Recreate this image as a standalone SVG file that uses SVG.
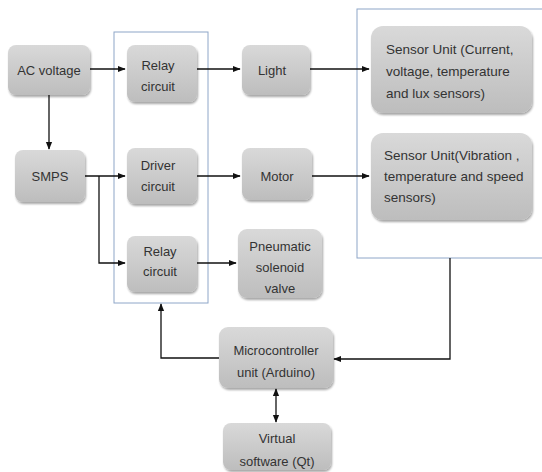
<svg xmlns="http://www.w3.org/2000/svg" width="542" height="472" viewBox="0 0 542 472">
<defs>
<linearGradient id="g" x1="0" y1="0" x2="0" y2="1">
<stop offset="0" stop-color="#d9d9d9"/>
<stop offset="1" stop-color="#bdbdbd"/>
</linearGradient>
<filter id="sh" x="-10%" y="-10%" width="130%" height="130%">
<feGaussianBlur in="SourceAlpha" stdDeviation="1.2"/>
<feOffset dx="1" dy="1.5" result="b"/>
<feComponentTransfer><feFuncA type="linear" slope="0.35"/></feComponentTransfer>
<feMerge><feMergeNode/><feMergeNode in="SourceGraphic"/></feMerge>
</filter>
<marker id="a" viewBox="0 0 10 10" refX="9" refY="5" markerWidth="6" markerHeight="6" orient="auto-start-reverse">
<path d="M0,1 L10,5 L0,9 z" fill="#111"/>
</marker>
</defs>
<style>
.box{fill:url(#g);filter:url(#sh)}
.t{font-family:"Liberation Sans",Arial,sans-serif;font-size:13px;fill:#333;text-anchor:middle}
.s{font-family:"Liberation Sans",Arial,sans-serif;font-size:13.5px;fill:#333}
.c{fill:none;stroke:#111;stroke-width:1.3}
.grp{fill:none;stroke:#8ea6c8;stroke-width:1}
</style>
<rect width="542" height="472" fill="#fff"/>
<g id="groups">
<rect class="grp" x="114" y="32" width="94" height="271"/>
<rect class="grp" x="357" y="9" width="190" height="249"/>
</g>
<g id="connectors">
<path class="c" d="M90,69 H125" marker-end="url(#a)"/>
<path class="c" d="M49,95 V149" marker-end="url(#a)"/>
<path class="c" d="M197,69 H240" marker-end="url(#a)"/>
<path class="c" d="M310,69 H369" marker-end="url(#a)"/>
<path class="c" d="M85,176 H125" marker-end="url(#a)"/>
<path class="c" d="M99,176 V263 H125" marker-end="url(#a)"/>
<path class="c" d="M197,176 H240" marker-end="url(#a)"/>
<path class="c" d="M312,176 H369" marker-end="url(#a)"/>
<path class="c" d="M197,263 H236" marker-end="url(#a)"/>
<path class="c" d="M450,258 V359 H334" marker-end="url(#a)"/>
<path class="c" d="M219,358 H161 V304" marker-end="url(#a)"/>
<path class="c" d="M276,389 V422" marker-start="url(#a)" marker-end="url(#a)"/>
</g>
<g id="ac"><rect class="box" x="8" y="45" width="82" height="50" rx="8"/><text class="t" x="49" y="75">AC voltage</text></g>
<g id="relay1"><rect class="box" x="127" y="45" width="70" height="57" rx="8"/><text class="t" x="158" y="70">Relay</text><text class="t" x="158" y="91">circuit</text></g>
<g id="light"><rect class="box" x="242" y="45" width="68" height="50" rx="8"/><text class="t" x="272" y="75">Light</text></g>
<g id="sensor1"><rect class="box" x="371" y="26" width="161" height="87" rx="12"/><text class="s" x="386" y="54">Sensor Unit (Current,</text><text class="s" x="386" y="76">voltage, temperature</text><text class="s" x="386" y="98">and lux sensors)</text></g>
<g id="smps"><rect class="box" x="15" y="150" width="70" height="52" rx="8"/><text class="t" x="50" y="181">SMPS</text></g>
<g id="driver"><rect class="box" x="127" y="148" width="70" height="56" rx="8"/><text class="t" x="158" y="170">Driver</text><text class="t" x="158" y="191">circuit</text></g>
<g id="motor"><rect class="box" x="242" y="148" width="70" height="52" rx="8"/><text class="t" x="277" y="181">Motor</text></g>
<g id="sensor2"><rect class="box" x="371" y="133" width="161" height="87" rx="12"/><text class="s" x="384" y="160">Sensor Unit(Vibration ,</text><text class="s" x="384" y="181">temperature and speed</text><text class="s" x="384" y="202">sensors)</text></g>
<g id="relay2"><rect class="box" x="127" y="236" width="70" height="56" rx="8"/><text class="t" x="160" y="256">Relay</text><text class="t" x="160" y="276">circuit</text></g>
<g id="pneumatic"><rect class="box" x="238" y="229" width="84" height="69" rx="9"/><text class="t" x="280" y="251">Pneumatic</text><text class="t" x="280" y="272">solenoid</text><text class="t" x="280" y="293">valve</text></g>
<g id="micro"><rect class="box" x="219" y="327" width="114" height="61" rx="9"/><text class="t" x="276" y="355">Microcontroller</text><text class="t" x="276" y="377">unit (Arduino)</text></g>
<g id="virtual"><rect class="box" x="223" y="423" width="108" height="47" rx="8"/><text class="t" x="277" y="443">Virtual</text><text class="t" x="277" y="466">software (Qt)</text></g>
</svg>
